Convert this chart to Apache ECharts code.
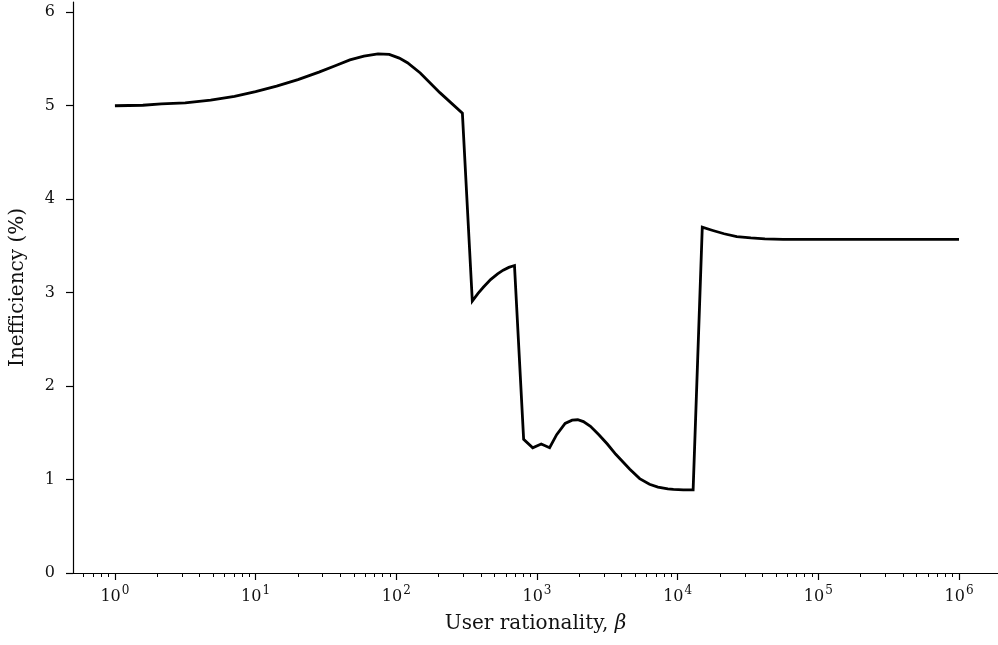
<!DOCTYPE html>
<html>
<head>
<meta charset="utf-8">
<script src="https://cdn.jsdelivr.net/npm/echarts@6/dist/echarts.min.js"></script>
<style>
html,body{margin:0;padding:0;background:#fff;}
#chart{width:998px;height:645px;}
</style>
</head>
<body>
<div id="chart"></div>
<script>
// User rationality beta (x, log scale)
const beta = [1, 1.58, 2.14, 3.16, 4.79, 7.08, 10, 14.1, 20, 28.2, 37.2, 46.8, 58.9, 74.1, 89.1,
  105, 120, 148, 204, 295,
  347, 380, 417, 468, 525, 575, 631, 692,
  804, 933, 1072, 1230, 1380, 1585, 1778, 1950, 2138, 2399, 2754, 3162, 3631, 4074, 4571,
  5370, 6310, 7244, 8511, 9333, 10965, 12882,
  14962, 17783, 21380, 26303, 33113, 41687, 56234, 100000, 1000000];
// Inefficiency (%)
const inefficiency = [5.00, 5.005, 5.02, 5.03, 5.06, 5.10, 5.15, 5.21, 5.28, 5.36, 5.43, 5.49, 5.53, 5.555, 5.55,
  5.51, 5.46, 5.35, 5.14, 4.92,
  2.91, 2.99, 3.06, 3.14, 3.20, 3.24, 3.27, 3.29,
  1.43, 1.34, 1.38, 1.34, 1.48, 1.60, 1.635, 1.64, 1.62, 1.57, 1.48, 1.38, 1.27, 1.19, 1.11,
  1.01, 0.95, 0.92, 0.90, 0.895, 0.89, 0.89,
  3.70, 3.665, 3.63, 3.60, 3.585, 3.575, 3.57, 3.57, 3.57];
// Tick labels
const xMajorExponents = [0, 1, 2, 3, 4, 5, 6];
const yTicks = [0, 1, 2, 3, 4, 5, 6];
const xName = 'User rationality, ';
const yName = 'Inefficiency (%)';

const FONT = 'DejaVu Serif';
const xMin = -0.298, xMax = 6.277;
const minorVals = [];
for (let e = -1; e <= 6; e++) {
  for (let k = 2; k <= 9; k++) {
    const v = e + Math.log10(k);
    if (v > xMin && v < xMax) minorVals.push(v);
  }
}

const chart = echarts.init(document.getElementById('chart'), null, {renderer: 'canvas'});
chart.setOption({
  animation: false,
  backgroundColor: '#fff',
  grid: {left: 72, right: 0, top: 2, bottom: 72, containLabel: false},
  xAxis: [{
    type: 'value', min: xMin, max: xMax,
    axisLine: {show: true, onZero: false, lineStyle: {color: '#000', width: 1.2}},
    axisTick: {show: true, customValues: xMajorExponents, length: 7, inside: false, lineStyle: {color: '#000', width: 1.2}},
    splitLine: {show: false},
    axisLabel: {
      customValues: xMajorExponents, margin: 12, color: '#111',
      formatter: v => '{b|10}{s|' + Math.round(v) + '}',
      rich: {
        b: {fontFamily: FONT, fontSize: 16, color: '#111', verticalAlign: 'bottom'},
        s: {fontFamily: FONT, fontSize: 12, color: '#111', verticalAlign: 'bottom', padding: [0, 0, 8, 1]}
      }
    },
    name: '{t|' + xName + '}{i|β}',
    nameLocation: 'middle', nameGap: 41,
    nameTextStyle: {
      rich: {
        t: {fontFamily: FONT, fontSize: 20, color: '#111'},
        i: {fontFamily: FONT, fontSize: 20, fontStyle: 'italic', color: '#111'}
      }
    }
  }, {
    type: 'value', min: xMin, max: xMax, position: 'bottom',
    axisLine: {show: false, onZero: false},
    axisTick: {show: true, customValues: minorVals, length: 4, lineStyle: {color: '#000', width: 1}},
    axisLabel: {show: false},
    splitLine: {show: false}
  }],
  yAxis: {
    type: 'value', min: 0, max: 6.11,
    axisLine: {show: true, onZero: false, lineStyle: {color: '#000', width: 1.2}},
    axisTick: {show: true, customValues: yTicks, length: 7, lineStyle: {color: '#000', width: 1.2}},
    axisLabel: {customValues: yTicks, margin: 18, fontFamily: FONT, fontSize: 16, color: '#111'},
    splitLine: {show: false},
    name: yName, nameLocation: 'middle', nameGap: 45, nameRotate: 90,
    nameTextStyle: {fontFamily: FONT, fontSize: 20, color: '#111'}
  },
  series: [{
    type: 'line',
    data: beta.map((b, i) => [Math.log10(b), inefficiency[i]]),
    showSymbol: false, symbol: 'none',
    lineStyle: {color: '#000', width: 2.8, join: 'miter'},
    xAxisIndex: 0
  }]
});
</script>
</body>
</html>
